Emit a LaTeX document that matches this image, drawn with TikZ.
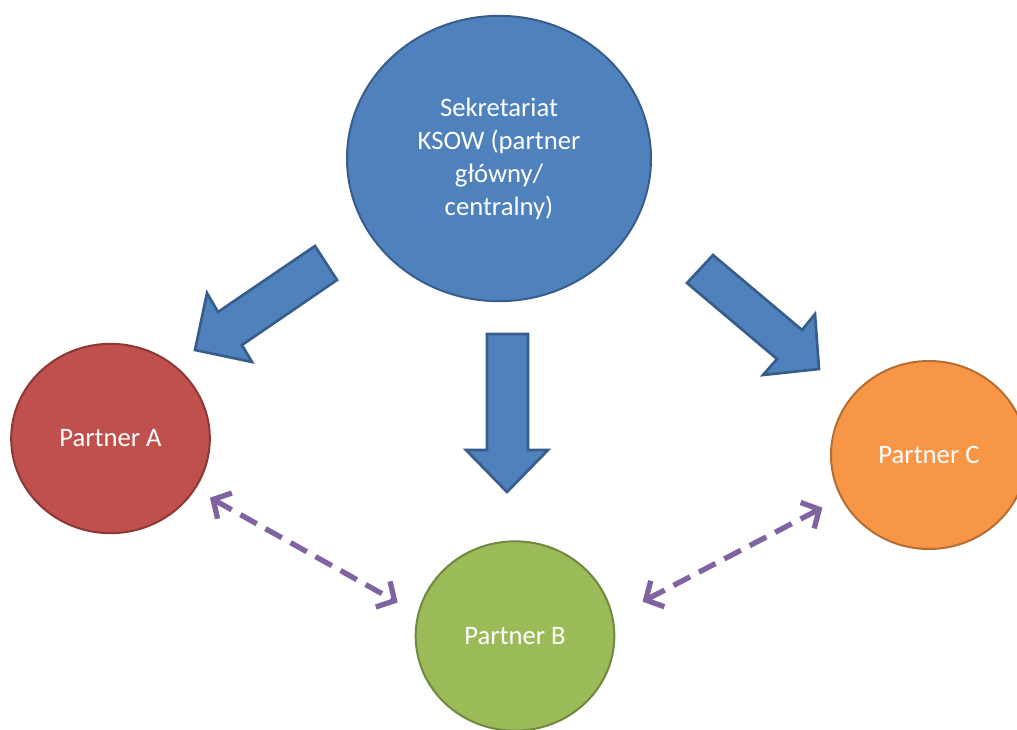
\documentclass[tikz,border=0pt]{standalone}
\usepackage{fontspec}
\setmainfont{Carlito}
\usetikzlibrary{shapes.geometric,arrows.meta}
\definecolor{ksowblue}{HTML}{4F81BD}
\definecolor{ksowblueline}{HTML}{385D8A}
\definecolor{partnerred}{HTML}{C0504D}
\definecolor{partnerredline}{HTML}{8C3836}
\definecolor{partnergreen}{HTML}{9BBB59}
\definecolor{partnergreenline}{HTML}{71893F}
\definecolor{partnerorange}{HTML}{F79646}
\definecolor{partnerorangeline}{HTML}{B66D31}
\definecolor{linkpurple}{HTML}{8064A2}
\begin{document}
\begin{tikzpicture}[x=0.75pt,y=-0.75pt,
    partner/.style={ellipse,draw,line width=1.5pt,text=white,inner sep=0pt,
        font=\fontsize{20}{24.75}\selectfont,minimum width=149pt,minimum height=142pt},
    blockarrow/.style={fill=ksowblue,draw=ksowblueline,line width=2pt,line join=miter},
    dlink/.style={draw=linkpurple,line width=4pt,dash pattern=on 14pt off 7.5pt,
        {Straight Barb[length=10pt,width=22pt]}-{Straight Barb[length=10pt,width=22pt]}}]
    \useasboundingbox (0,0) rectangle (1017,729);
    \clip (0,0) rectangle (1017,729);
    % circles
    \node[partner,fill=ksowblue,draw=ksowblueline,align=center,
        minimum width=228pt,minimum height=214pt] (ksow) at (499,158.5)
        {Sekretariat\\KSOW (partner\\główny/\\centralny)};
    \node[partner,fill=partnerred,draw=partnerredline] (pa) at (110.5,438.5) {Partner A};
    \node[partner,fill=partnergreen,draw=partnergreenline] (pb) at (515,636) {Partner B};
    \node[partner,fill=partnerorange,draw=partnerorangeline,minimum width=147pt,
        minimum height=141pt] (pc) at (929,455) {Partner C};
    % block arrows
    \draw[blockarrow] (315,246) -- (337,280) -- (242,345) -- (252,362) -- (195,350)
        -- (207,293) -- (218,312) -- cycle;
    \draw[blockarrow] (487,334) -- (528,334) -- (528,450) -- (548,450) -- (507,492)
        -- (466,450) -- (487,450) -- cycle;
    \draw[blockarrow] (713,255) -- (687,283) -- (777,359) -- (763,375) -- (819,369)
        -- (815,314) -- (802,330) -- cycle;
    % dashed links
    \draw[dlink,shorten <=12.5pt,shorten >=17pt] (pa.-31) -- (pb.167);
    \draw[dlink,shorten <=24.75pt,shorten >=15.5pt] (pb.11.5) -- (pc.-154);
\end{tikzpicture}
\end{document}
